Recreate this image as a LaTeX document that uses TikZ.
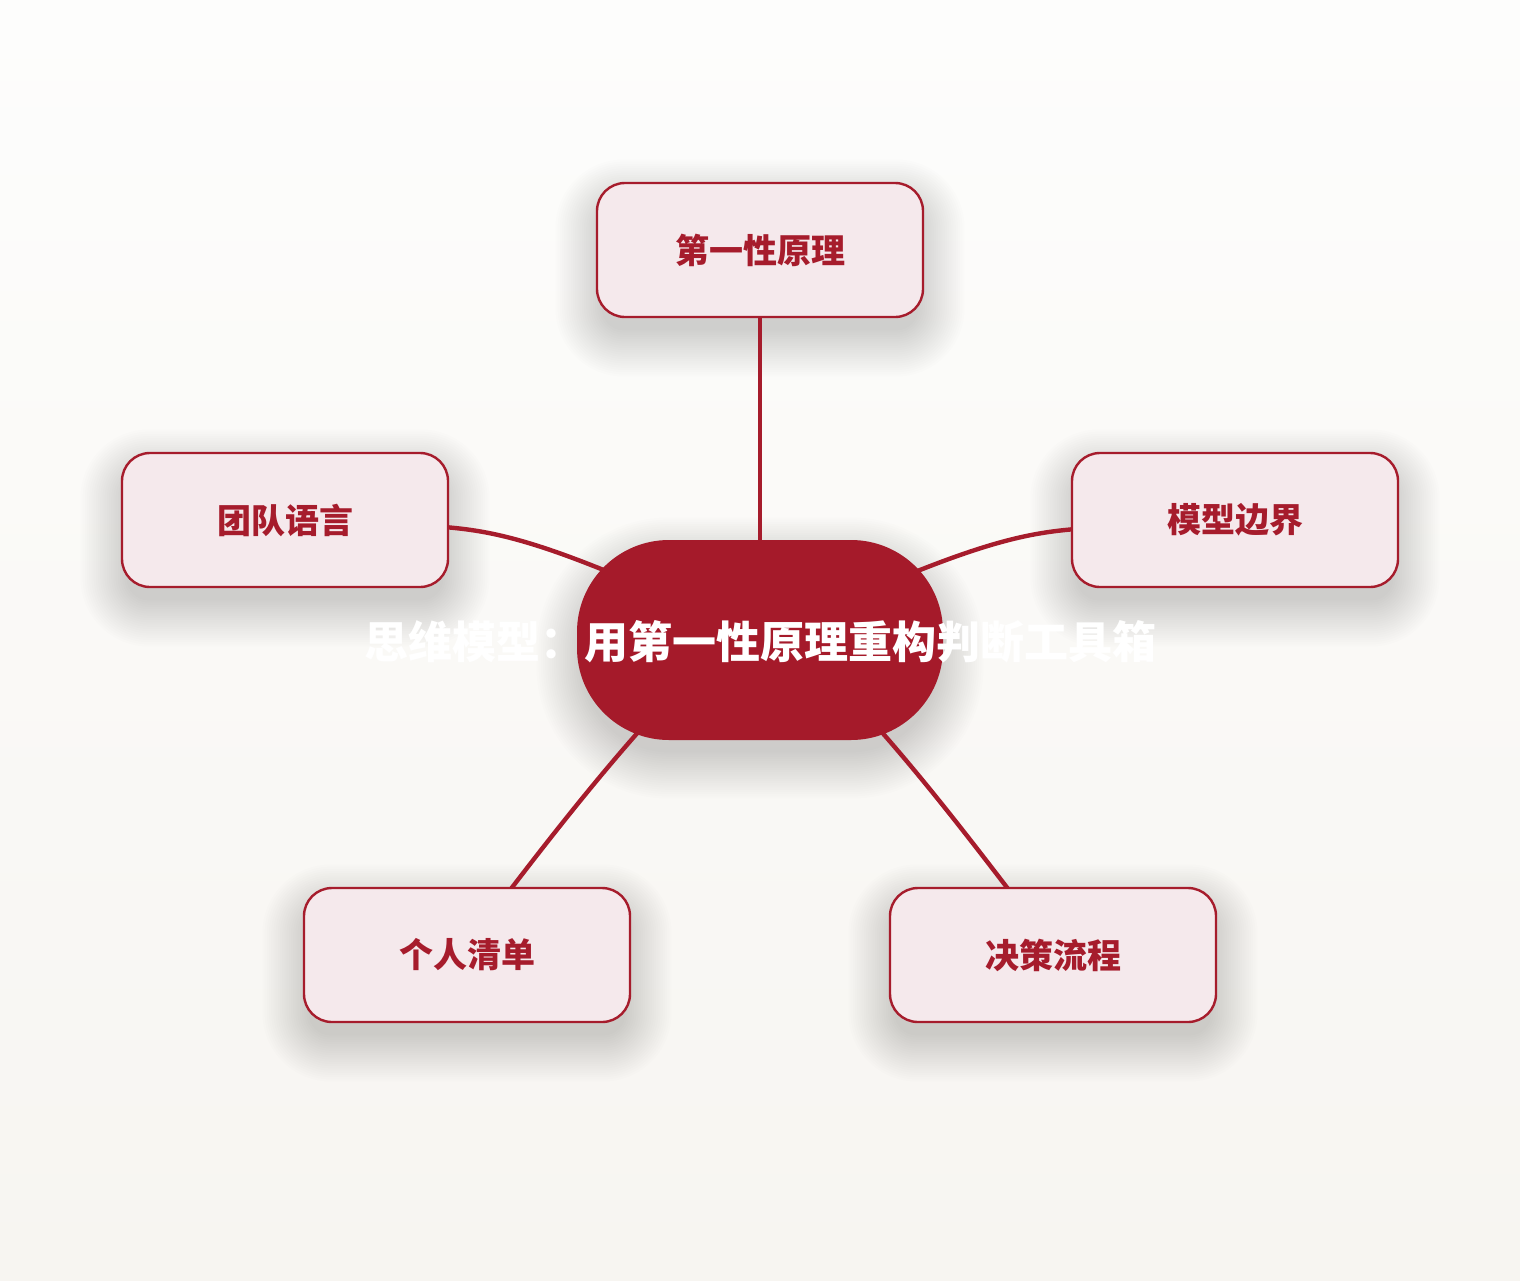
\documentclass[tikz,border=0pt]{standalone}
\usepackage{fontspec}
\setmainfont{Noto Sans CJK SC}
\usetikzlibrary{calc,backgrounds}
\definecolor{bgtop}{HTML}{FDFDFC}
\definecolor{bgbot}{HTML}{F7F5F1}
\definecolor{deepred}{HTML}{A51A2A}
\definecolor{satfill}{HTML}{F5E9EC}
\definecolor{satline}{HTML}{A61C2C}
\tikzset{
  satnode/.style={draw=satline, line width=2.4pt, fill=satfill, rounded corners=28pt,
    minimum width=326pt, minimum height=134pt, inner sep=0pt,
    text=satline, font=\bfseries\fontsize{34pt}{38pt}\selectfont},
  centernode/.style={fill=deepred, rounded corners=92pt, minimum width=366pt,
    minimum height=200pt, inner sep=0pt},
  titletext/.style={text=white, font=\bfseries\fontsize{44pt}{48pt}\selectfont, inner sep=0pt},
  linkline/.style={draw=satline, line width=4.4pt, line cap=round},
}
\newcommand{\softshadow}[3]{% node, radius, down shift
  \foreach \i in {1,...,22}{
    \pgfmathsetmacro\dd{\i*2.2-8}
    \pgfmathsetmacro\rr{max(#2+\i*2.2-8,4)}
    \fill[black, opacity=0.0075, rounded corners=\rr pt]
      ($(#1.north west)+(-\dd,-\dd+#3)$) rectangle ($(#1.south east)+(\dd,\dd+#3)$);
  }
}
\begin{document}
\begin{tikzpicture}[x=1pt,y=-1pt]
\useasboundingbox (0,0) rectangle (1520,1280);
% nodes
\node[centernode] (c) at (760,640) {};
\node[titletext] (ct) at (760,642) {思维模型：用第一性原理重构判断工具箱};
\node[satnode] (t) at (760,250) {第一性原理};
\node[satnode] (l) at (285,520) {团队语言};
\node[satnode] (r) at (1235,520) {模型边界};
\node[satnode] (bl) at (467,955) {个人清单};
\node[satnode] (br) at (1053,955) {决策流程};
\coordinate (cbl) at ($(c.center)+(-90,57)$);
\coordinate (cbr) at ($(c.center)+(90,57)$);
\begin{scope}[on background layer]
  \shade[top color=bgtop, bottom color=bgbot] (0,0) rectangle (1520,1280);
  \softshadow{t}{28}{18}
  \softshadow{l}{28}{18}
  \softshadow{r}{28}{18}
  \softshadow{bl}{28}{18}
  \softshadow{br}{28}{18}
  \softshadow{c}{92}{18}
  % connectors
  \draw[linkline] (t.south) -- (c.center);
  \draw[linkline] ($(l.east)+(-5,7)$) .. controls ($(l.east)+(55,12)$) and ($(c.center)+(-200,-95)$) .. (c.center);
  \draw[linkline] ($(r.west)+(5,9)$) .. controls ($(r.west)+(-55,14)$) and ($(c.center)+(200,-93)$) .. (c.center);
  \draw[linkline] ($(bl.north)+(44,2)$) .. controls ($(bl.north)+(90,-58)$) and ($(cbl)+(-58,62)$) .. (cbl);
  \draw[linkline] ($(br.north)+(-45,2)$) .. controls ($(br.north)+(-91,-58)$) and ($(cbr)+(58,62)$) .. (cbr);
\end{scope}
\end{tikzpicture}
\end{document}
